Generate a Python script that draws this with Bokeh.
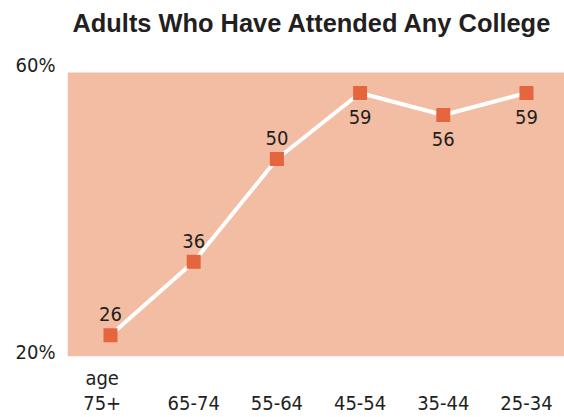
from bokeh.plotting import figure
from bokeh.models import (ColumnDataSource, Range1d, LinearAxis, FixedTicker,
                          BoxAnnotation)
from bokeh.core.properties import value
from bokeh.embed import file_html
from bokeh.resources import INLINE

# Share of adults who have attended any college, by age group
age_groups = ["75+", "65-74", "55-64", "45-54", "35-44", "25-34"]
pct_college = [26, 36, 50, 59, 56, 59]
label_side = ["above", "above", "above", "below", "below", "below"]

# scale annotations on the left
scale_labels = ["60%", "20%"]

NARROW = "DejaVu Sans Condensed, Liberation Sans Narrow, sans-serif"
INK = "#231f20"
SALMON = "#f2bda3"
MARKER = "#e5653e"
FS = "20px"

idx = list(range(len(age_groups)))
src = ColumnDataSource(dict(
    x=idx,
    y=pct_college,
    txt=[str(v) for v in pct_college],
    dy=[-21 if s == "above" else 24 for s in label_side],
))

p = figure(width=564, height=417,
           x_range=Range1d(-0.517, 5.457),
           y_range=Range1d(23.1, 65.88),
           output_backend="svg", toolbar_location=None,
           min_border_left=67, min_border_right=0,
           min_border_top=42, min_border_bottom=60,
           x_axis_location=None, y_axis_location=None)

p.outline_line_color = None
p.background_fill_color = "white"
p.border_fill_color = "white"
p.xgrid.visible = False
p.ygrid.visible = False

# shaded panel behind the series
p.add_layout(BoxAnnotation(top=61.8, fill_color=SALMON, fill_alpha=1.0,
                           line_color=None, level="underlay"))

# title
p.title.text = "Adults Who Have Attended Any College"
p.title.text_font = "Liberation Sans"
p.title.text_font_style = "bold"
p.title.text_font_size = "25.4px"
p.title.text_color = INK
p.title.align = "left"
p.title.offset = 5
p.title.standoff = 12

# series line and markers
p.line("x", "y", source=src, line_color="white", line_width=4)
p.scatter("x", "y", source=src, marker="square", size=14,
          fill_color=MARKER, line_color=None)
p.text("x", "y", text="txt", source=src, y_offset="dy",
       text_align="center", text_baseline="middle",
       text_font=value(NARROW), text_font_size=FS, text_color=INK)


def plain_axis(ax, standoff):
    ax.axis_line_color = None
    ax.major_tick_line_color = None
    ax.minor_tick_line_color = None
    ax.major_tick_out = 0
    ax.major_tick_in = 0
    ax.minor_tick_out = 0
    ax.minor_tick_in = 0
    ax.axis_label_standoff = 0
    ax.major_label_standoff = standoff
    ax.major_label_text_font = NARROW
    ax.major_label_text_font_size = FS
    ax.major_label_text_color = INK


# left scale labels
yax = LinearAxis(ticker=FixedTicker(ticks=[62.75, 23.78]))
yax.major_label_overrides = {62.75: scale_labels[0], 23.78: scale_labels[1]}
plain_axis(yax, 12)
p.add_layout(yax, "left")

# age group labels along the bottom; the first carries the "age" caption
tick_pos = [-0.1] + idx[1:]
xax = LinearAxis(ticker=FixedTicker(ticks=tick_pos))
xax.major_label_overrides = {
    t: ("age\n" + g if i == 0 else "\n" + g)
    for i, (t, g) in enumerate(zip(tick_pos, age_groups))
}
plain_axis(xax, 9)
xax.major_label_text_line_height = 1.05
p.add_layout(xax, "below")

open("out.html", "w").write(file_html(p, INLINE))
